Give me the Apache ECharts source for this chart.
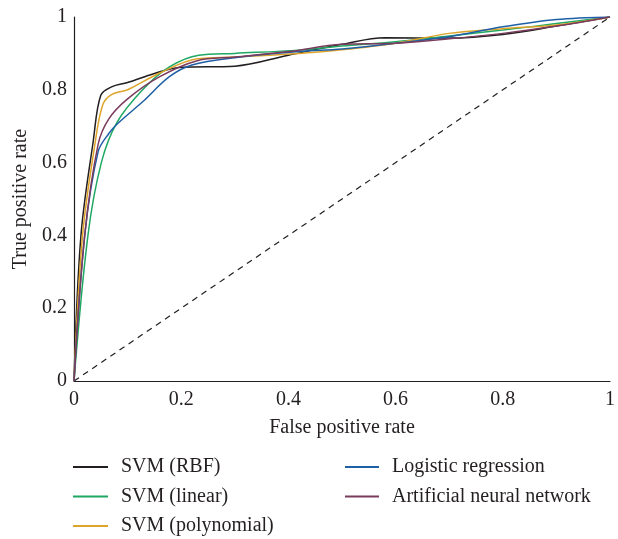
<!DOCTYPE html>
<html>
<head>
<meta charset="utf-8">
<script src="https://cdn.jsdelivr.net/npm/echarts@6/dist/echarts.min.js"></script>
<style>
  html, body { margin: 0; padding: 0; background: #fff; }
  #chart { width: 618px; height: 539px; }
</style>
</head>
<body>
<div id="chart"></div>
<script>
  // ROC curves as [fpr, tpr]
  const rbf = [[0,0],[0.013,0.4],[0.036,0.66],[0.05,0.785],[0.07,0.808],[0.1,0.82],[0.15,0.845],[0.2,0.862],[0.3,0.865],[0.4,0.895],[0.5,0.925],[0.58,0.943],[0.7,0.942],[0.8,0.952],[0.9,0.975],[1,1]];
  const linear = [[0,0],[0.026,0.4],[0.051,0.6],[0.08,0.71],[0.128,0.8],[0.178,0.863],[0.233,0.895],[0.3,0.9],[0.42,0.909],[0.5,0.92],[0.6,0.932],[0.7,0.948],[0.8,0.964],[0.9,0.982],[1,1]];
  const poly = [[0,0],[0.016,0.4],[0.04,0.66],[0.054,0.76],[0.07,0.787],[0.1,0.8],[0.16,0.846],[0.23,0.885],[0.3,0.89],[0.42,0.9],[0.5,0.91],[0.6,0.928],[0.7,0.955],[0.8,0.968],[0.9,0.978],[1,1]];
  const logistic = [[0,0],[0.02,0.4],[0.045,0.63],[0.065,0.68],[0.082,0.708],[0.128,0.767],[0.178,0.836],[0.22,0.868],[0.3,0.888],[0.42,0.905],[0.5,0.912],[0.6,0.928],[0.7,0.946],[0.8,0.973],[0.9,0.993],[1,1]];
  const ann = [[0,0],[0.02,0.4],[0.045,0.65],[0.065,0.72],[0.1,0.775],[0.16,0.836],[0.23,0.88],[0.3,0.89],[0.4,0.905],[0.5,0.925],[0.6,0.928],[0.7,0.94],[0.8,0.955],[0.9,0.975],[1,1]];
  const chance = [[0,0],[1,1]];

  const seriesNames = ['SVM (RBF)', 'SVM (linear)', 'SVM (polynomial)', 'Logistic regression', 'Artificial neural network'];
  const seriesColors = ['#231f20', '#1fa862', '#dea42a', '#1f5fa6', '#7b3b5c'];
  const seriesData = [rbf, linear, poly, logistic, ann];

  const font = 'Liberation Serif';
  const ink = '#231f20';

  let myChart = echarts.init(document.getElementById('chart'));

  let series = seriesData.map((d, i) => ({
    name: seriesNames[i],
    type: 'line',
    data: d,
    smooth: 0.35,
    showSymbol: false,
    lineStyle: { width: 1.5, color: seriesColors[i] },
    itemStyle: { color: seriesColors[i] },
    z: 3
  }));
  series.push({
    name: 'chance',
    type: 'line',
    data: chance,
    showSymbol: false,
    lineStyle: { width: 1.2, color: ink, type: [6, 5] },
    z: 2
  });

  const legendText = { fontFamily: font, fontSize: 20, color: ink, lineHeight: 20, padding: [0, 0, 0, 8] };

  let option = {
    animation: false,
    backgroundColor: '#fff',
    grid: { left: 74, right: 4, top: 17, bottom: 158 },
    legend: [{
      data: seriesNames.slice(0, 3),
      orient: 'vertical',
      left: 73,
      top: 457,
      padding: 0,
      height: 82,
      icon: 'rect',
      itemWidth: 35,
      itemHeight: 2,
      itemGap: 9.5,
      textStyle: legendText
    }, {
      data: seriesNames.slice(3),
      orient: 'vertical',
      left: 345,
      top: 457,
      padding: 0,
      height: 82,
      icon: 'rect',
      itemWidth: 34,
      itemHeight: 2,
      itemGap: 9.5,
      textStyle: legendText
    }],
    xAxis: {
      type: 'value',
      min: 0,
      max: 1,
      interval: 0.2,
      name: 'False positive rate',
      nameLocation: 'middle',
      nameGap: 37,
      nameTextStyle: { fontFamily: font, fontSize: 20, color: ink },
      axisLine: { show: true, lineStyle: { color: ink, width: 1.2 } },
      axisTick: { show: false },
      splitLine: { show: false },
      axisLabel: { fontFamily: font, fontSize: 20, color: ink, margin: 9 }
    },
    yAxis: {
      type: 'value',
      min: 0,
      max: 1,
      interval: 0.2,
      name: 'True positive rate',
      nameLocation: 'middle',
      nameGap: 42,
      nameTextStyle: { fontFamily: font, fontSize: 20, color: ink },
      axisLine: { show: true, lineStyle: { color: ink, width: 1.2 } },
      axisTick: { show: false },
      splitLine: { show: false },
      axisLabel: { fontFamily: font, fontSize: 20, color: ink, margin: 7 }
    },
    series: series
  };

  myChart.setOption(option, true);
</script>
</body>
</html>
